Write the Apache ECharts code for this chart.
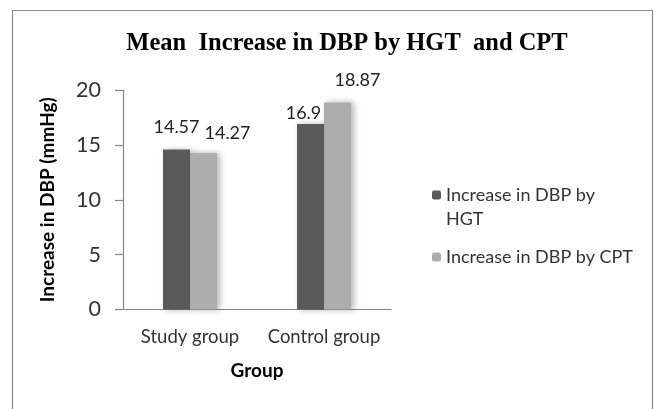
<!DOCTYPE html>
<html>
<head>
<meta charset="utf-8">
<script src="https://cdn.jsdelivr.net/npm/echarts@6/dist/echarts.min.js"></script>
<style>
  html, body { margin: 0; padding: 0; background: #fff; }
  #chart { width: 656px; height: 409px; }
</style>
</head>
<body>
<div id="chart"></div>
<script>
// Mean increase in diastolic blood pressure, by group and test
const groups = ['Study group', 'Control group'];
const seriesNames = ['Increase in DBP by HGT', 'Increase in DBP by CPT'];
const hgtValues = [14.57, 16.9];
const cptValues = [14.27, 18.87];
const yTicks = { min: 0, max: 20, step: 5 };

const chart = echarts.init(document.getElementById('chart'), null, { renderer: 'canvas' });

const labelFont = 'Lato, "Open Sans", sans-serif';
const barShadow = { shadowColor: 'rgba(0,0,0,0.28)', shadowBlur: 6, shadowOffsetX: 3, shadowOffsetY: 0 };

// per-point label nudges so neighbouring value labels stay apart
const hgtLabelShift = [[0, -8], [-7, 3]];
const cptLabelShift = [[24, -6], [20, -8]];

function withLabels(values, shifts) {
  return values.map((v, i) => ({ value: v, label: { offset: shifts[i] } }));
}

const legendText = { fontFamily: labelFont, fontSize: 18, color: '#333', lineHeight: 24 };

chart.setOption({
  backgroundColor: '#ffffff',
  animation: false,
  title: {
    text: 'Mean  Increase in DBP by HGT  and CPT',
    left: 342,
    textAlign: 'center',
    top: 26,
    textStyle: { fontFamily: '"Liberation Serif", "Times New Roman", serif', fontWeight: 'bold', fontSize: 24.5, color: '#000' }
  },
  graphic: [{
    type: 'rect',
    shape: { x: 12.5, y: 10.5, width: 640, height: 420 },
    style: { fill: 'none', stroke: '#8a8a8a', lineWidth: 1.2 },
    silent: true
  }],
  legend: [{
    // a blank first line keeps the swatch level with the first text line
    data: [seriesNames[0]],
    orient: 'vertical',
    left: 432,
    top: 159,
    padding: 0,
    itemWidth: 9,
    itemHeight: 9,
    formatter: () => ' \nIncrease in DBP by\nHGT',
    textStyle: legendText
  }, {
    data: [seriesNames[1]],
    orient: 'vertical',
    left: 432,
    top: 245,
    padding: 0,
    itemWidth: 9,
    itemHeight: 9,
    textStyle: legendText
  }],
  grid: { left: 123, right: 265, top: 90, bottom: 99.5, containLabel: false },
  xAxis: {
    type: 'category',
    data: groups,
    name: 'Group',
    nameLocation: 'middle',
    nameGap: 52,
    nameTextStyle: { fontFamily: labelFont, fontSize: 19, fontWeight: 'bold', color: '#000' },
    axisLine: { lineStyle: { color: '#868686', width: 1.2 } },
    axisTick: { show: false },
    axisLabel: { interval: 0, hideOverlap: false, fontFamily: labelFont, fontSize: 18.5, color: '#333', margin: 18 }
  },
  yAxis: {
    type: 'value',
    min: yTicks.min,
    max: yTicks.max,
    interval: yTicks.step,
    name: 'Increase in DBP (mmHg)',
    nameLocation: 'middle',
    nameGap: 66,
    nameTextStyle: { fontFamily: labelFont, fontSize: 19, fontWeight: 'bold', color: '#000' },
    axisLine: { show: true, lineStyle: { color: '#868686', width: 1.2 } },
    axisTick: { show: true, length: 8, lineStyle: { color: '#868686', width: 1.2 } },
    axisLabel: { fontFamily: labelFont, fontSize: 21.5, color: '#333', margin: 22 },
    splitLine: { show: false }
  },
  series: [{
    name: seriesNames[0],
    type: 'bar',
    data: withLabels(hgtValues, hgtLabelShift),
    barWidth: 27,
    barGap: '0%',
    itemStyle: Object.assign({ color: '#5a5a5a' }, barShadow),
    label: { show: true, position: 'top', distance: 5, fontFamily: labelFont, fontSize: 18, color: '#222' }
  }, {
    name: seriesNames[1],
    type: 'bar',
    data: withLabels(cptValues, cptLabelShift),
    barWidth: 27,
    itemStyle: Object.assign({ color: '#adadad' }, barShadow),
    label: { show: true, position: 'top', distance: 5, fontFamily: labelFont, fontSize: 18, color: '#222' }
  }]
});
</script>
</body>
</html>
